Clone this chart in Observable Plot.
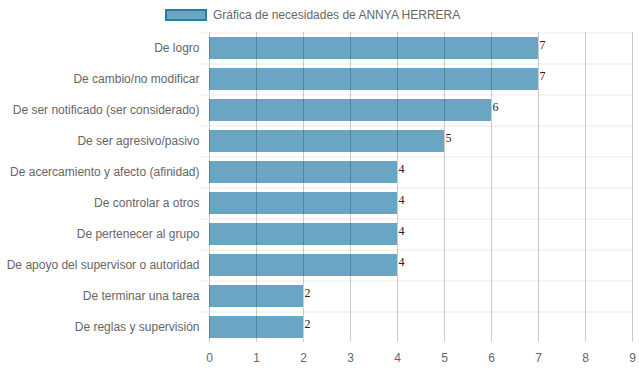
<!DOCTYPE html>
<html>
<head>
<meta charset="utf-8">
<script src="https://cdn.jsdelivr.net/npm/d3@7"></script>
<script src="https://cdn.jsdelivr.net/npm/@observablehq/plot@0.6"></script>
<style>
  body { margin: 0; background: #fff; font-family: "Liberation Sans", Arial, sans-serif; }
  #legend { height: 30px; display: flex; align-items: center; padding-left: 165px; font-size: 12px; color: #666; }
  #legend .sw { width: 38px; height: 8px; background: #6ba5c4; border: 2px solid #2e7aa6; margin-right: 6px; }
  #chart svg { display: block; }
</style>
</head>
<body>
<div id="legend"><span class="sw"></span><span id="legendText"></span></div>
<div id="chart"></div>
<script>
const title = "Gráfica de necesidades de ANNYA HERRERA";
const categories = [
  "De logro",
  "De cambio/no modificar",
  "De ser notificado (ser considerado)",
  "De ser agresivo/pasivo",
  "De acercamiento y afecto (afinidad)",
  "De controlar a otros",
  "De pertenecer al grupo",
  "De apoyo del supervisor o autoridad",
  "De terminar una tarea",
  "De reglas y supervisión"
];
const values = [7, 7, 6, 5, 4, 4, 4, 4, 2, 2];
const xTicks = [0, 1, 2, 3, 4, 5, 6, 7, 8, 9];

document.getElementById("legendText").textContent = title;
const data = categories.map((c, i) => ({category: c, value: values[i]}));

const chart = Plot.plot({
  width: 639,
  height: 342,
  marginLeft: 209,
  marginRight: 7,
  marginTop: 2,
  marginBottom: 30,
  style: {fontFamily: "'Liberation Sans', Arial, sans-serif", fontSize: "12px", color: "#666", background: "#fff"},
  x: {domain: [0, 9], ticks: xTicks, label: null},
  y: {domain: categories, paddingInner: 0.3, paddingOuter: 0.15, label: null},
  marks: [
    Plot.ruleY(categories, {y: d => d, dy: -15.5, stroke: "#ebebeb", insetLeft: -9}),
    Plot.barX(data, {y: "category", x: "value", fill: "#6ba5c4"}),
    Plot.ruleX(xTicks, {stroke: "#000", strokeOpacity: 0.2}),
    Plot.ruleY([0], {frameAnchor: "bottom", stroke: "#ccc"}),
    Plot.text(data, {y: "category", x: "value", text: d => String(d.value), textAnchor: "start", dx: 1, dy: -3, fill: "#222", fontFamily: "'Liberation Serif', 'Times New Roman', serif", fontSize: 12}),
    Plot.axisX({ticks: xTicks, tickSize: 0, tickPadding: 11, fill: "#666", fontSize: 12}),
    Plot.axisY({tickSize: 0, tickPadding: 10, fill: "#666", fontSize: 12})
  ]
});
document.getElementById("chart").appendChild(chart);
</script>
</body>
</html>
